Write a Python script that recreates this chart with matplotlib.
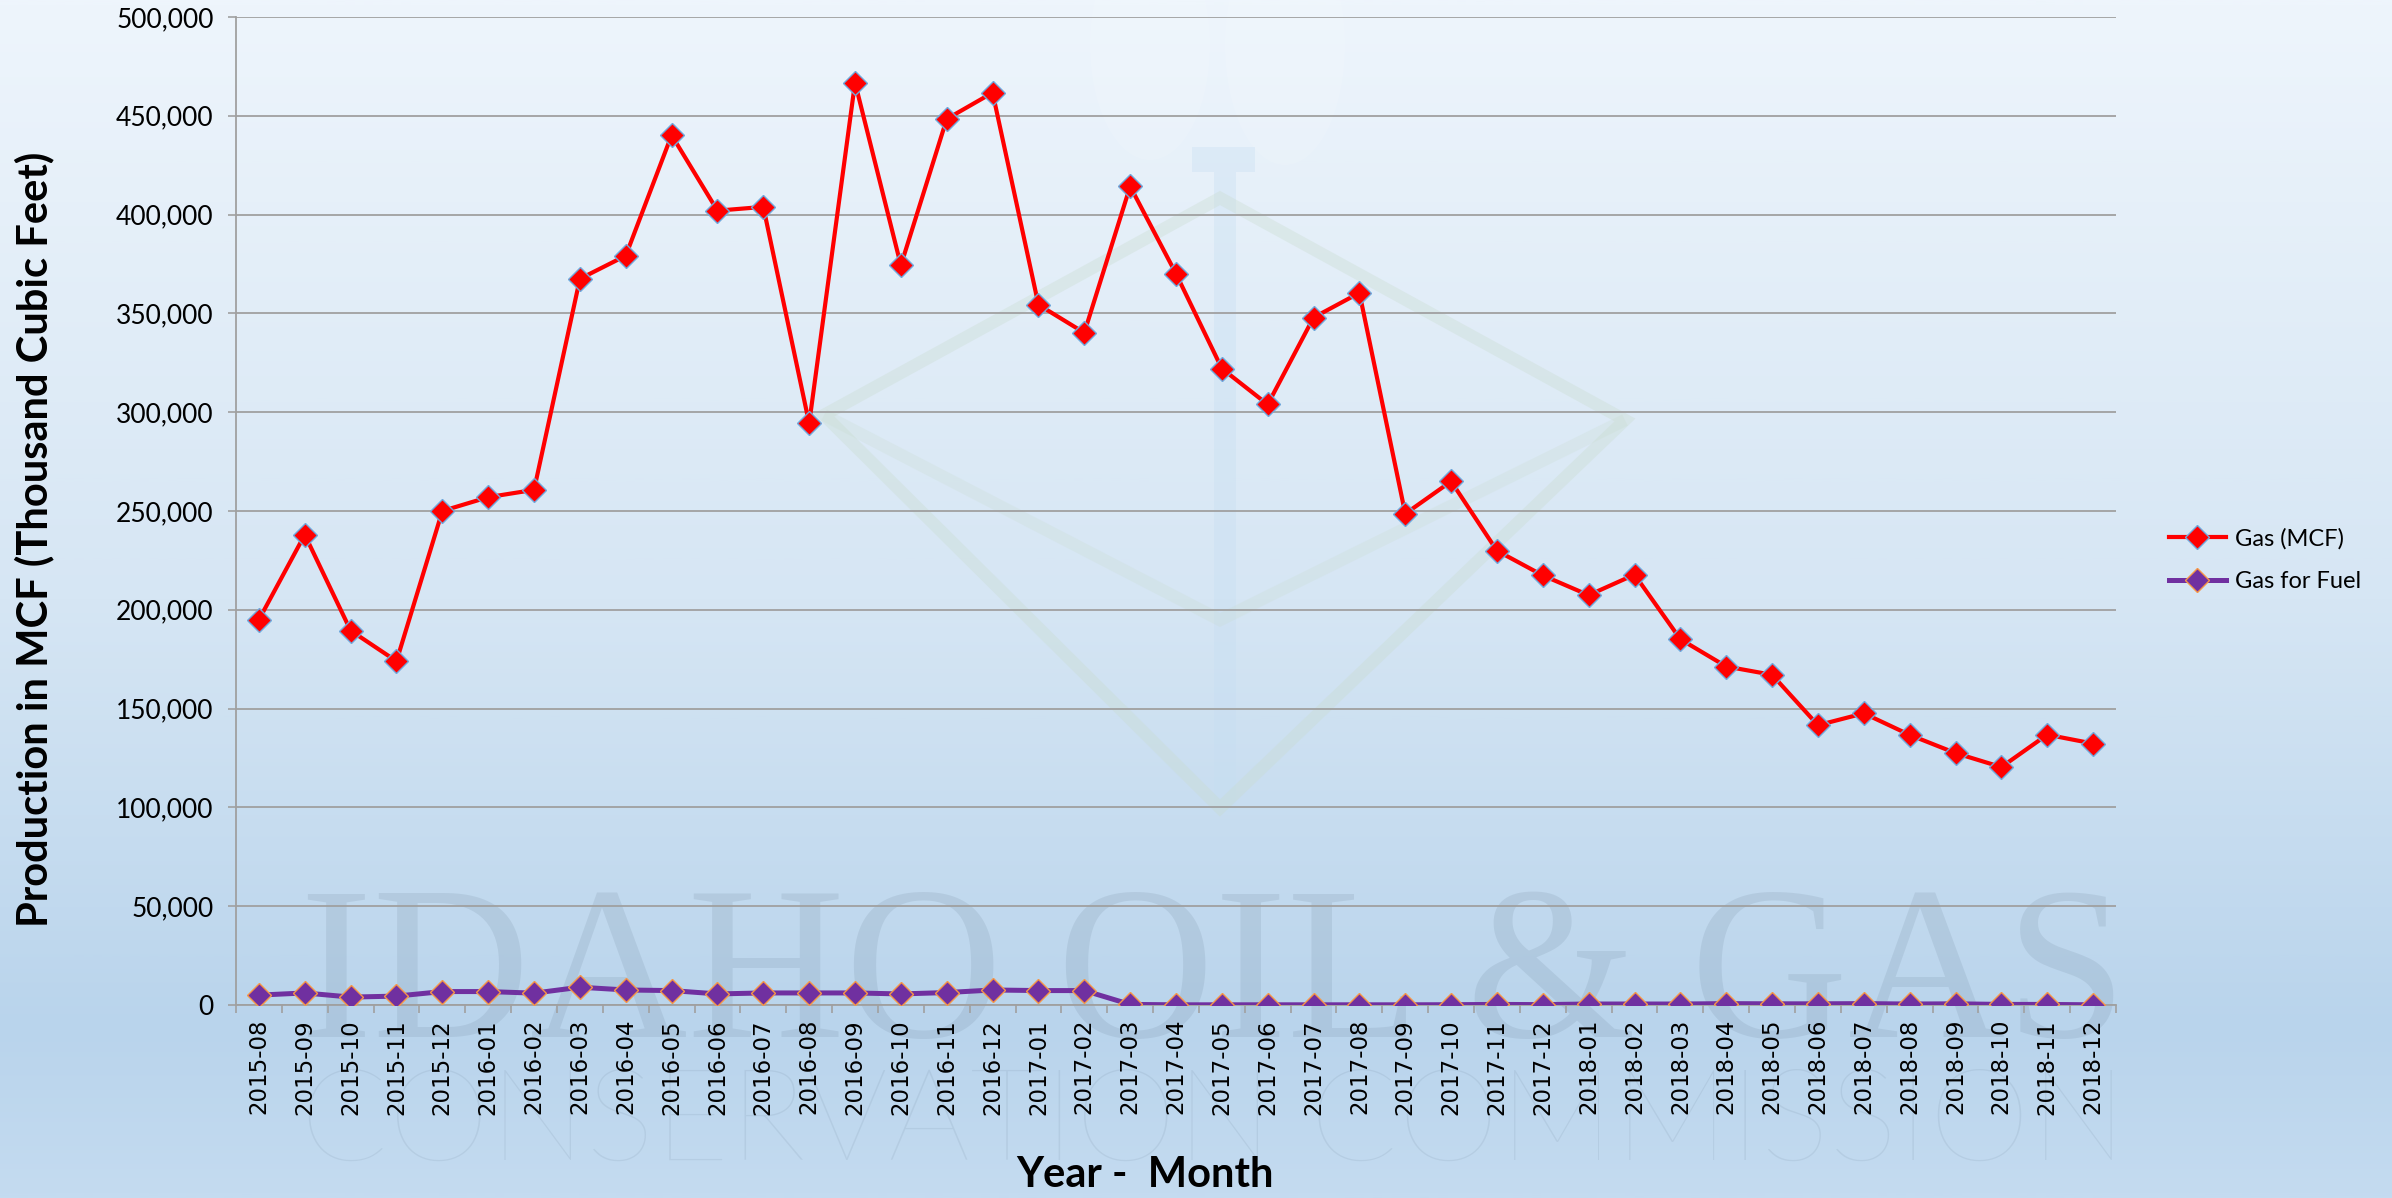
import numpy as np
import matplotlib
matplotlib.use('Agg')
import matplotlib.pyplot as plt
from matplotlib.colors import LinearSegmentedColormap
from matplotlib.ticker import FuncFormatter
from matplotlib.patches import Polygon, Ellipse, Rectangle

# ---------------- data ----------------
months = ['2015-08', '2015-09', '2015-10', '2015-11', '2015-12',
          '2016-01', '2016-02', '2016-03', '2016-04', '2016-05', '2016-06',
          '2016-07', '2016-08', '2016-09', '2016-10', '2016-11', '2016-12',
          '2017-01', '2017-02', '2017-03', '2017-04', '2017-05', '2017-06',
          '2017-07', '2017-08', '2017-09', '2017-10', '2017-11', '2017-12',
          '2018-01', '2018-02', '2018-03', '2018-04', '2018-05', '2018-06',
          '2018-07', '2018-08', '2018-09', '2018-10', '2018-11', '2018-12']

gas_mcf = [195000, 238000, 189500, 174000, 250000,
           257000, 260700, 367500, 379200, 440200, 402000,
           403900, 294300, 466800, 374300, 448400, 461700,
           354400, 340200, 414300, 370100, 322100, 303900,
           347900, 360400, 248600, 265000, 229900, 217400,
           207400, 217800, 185100, 171300, 167100, 141600,
           147600, 136700, 127500, 120400, 136800, 132300]

gas_fuel = [5000, 6100, 4000, 4500, 6800,
            6800, 6000, 9000, 7600, 7300, 5600,
            6100, 6100, 6100, 5600, 6300, 7600,
            7300, 7300, 300, 100, 100, 100,
            100, 100, 100, 150, 300, 200,
            500, 500, 500, 700, 600, 600,
            700, 500, 600, 300, 300, 100]

series_labels = ['Gas (MCF)', 'Gas for Fuel']
y_ticks = [0, 50000, 100000, 150000, 200000, 250000,
           300000, 350000, 400000, 450000, 500000]
y_label = 'Production in MCF (Thousand Cubic Feet)'
x_label = 'Year -  Month'

# ---------------- figure ----------------
W, H = 2392, 1198
fig = plt.figure(figsize=(W / 100, H / 100), dpi=100)

# background gradient + watermark (pixel coordinates, y downward)
bg = fig.add_axes([0, 0, 1, 1], zorder=-10)
grad = np.linspace(0, 1, 600).reshape(-1, 1)
cmap = LinearSegmentedColormap.from_list(
    'bg', [(0, '#EEF5FC'), (0.5, '#D6E6F4'), (0.86, '#B9D4EC'), (1, '#C4DBF0')])
bg.imshow(grad, aspect='auto', cmap=cmap, extent=[0, W, H, 0])
bg.set_xlim(0, W)
bg.set_ylim(H, 0)
bg.axis('off')

# faint logo
bg.add_patch(Ellipse((1150, 45), 120, 230, color='#FFFFFF', alpha=0.10, lw=0))
bg.add_patch(Ellipse((1285, 45), 120, 240, color='#FFFFFF', alpha=0.10, lw=0))
bg.add_patch(Rectangle((1192, 147), 63, 25, color='#C6DEF2', alpha=0.35, lw=0))
bg.add_patch(Rectangle((1214, 172), 22, 640, color='#C6DEF2', alpha=0.35, lw=0))
bg.add_patch(Polygon([(824, 415), (1220, 198), (1625, 420), (1220, 808)],
                     closed=True, fill=False, edgecolor='#C9DCCF', alpha=0.35, lw=9))
bg.add_patch(Polygon([(824, 415), (1220, 620), (1625, 420)],
                     closed=False, fill=False, edgecolor='#C9DCCF', alpha=0.25, lw=9))

bg.text(300, 1037, 'IDAHO OIL & GAS', family='Liberation Serif', fontsize=157,
        color='#50657A', alpha=0.12, ha='left', va='baseline')
bg.text(300, 1160, 'CONSERVATION COMMISSION', family='Lato', fontweight='light',
        fontsize=93, color='#50657A', alpha=0.10, ha='left', va='baseline')

# main axes
ax = fig.add_axes([236 / W, 1 - 1005 / H, (2116 - 236) / W, (1005 - 17) / H])
ax.set_facecolor('none')
x = np.arange(len(months))

ax.plot(x, gas_mcf, color='#FF0000', lw=3, marker='D', ms=12,
        mfc='#FF0000', mec='#6FA8DC', mew=1.0, label=series_labels[0], zorder=3)
ax.plot(x, gas_fuel, color='#7030A0', lw=3.6, marker='D', ms=12,
        mfc='#7030A0', mec='#F79646', mew=1.0, label=series_labels[1], zorder=3)

ax.set_xlim(-0.5, len(months) - 0.5)
ax.set_ylim(0, 500000)
ax.set_yticks(y_ticks)
ax.yaxis.set_major_formatter(FuncFormatter(lambda v, p: f'{int(v):,}'))
for lab in ax.get_yticklabels():
    lab.set_family('Lato')
    lab.set_fontsize(19)

ax.set_xticks(x)
ax.set_xticklabels(months, rotation=90, family='DejaVu Sans', fontsize=16.5)
ax.set_xticks(np.arange(-0.5, len(months)), minor=True)
ax.tick_params(axis='x', which='major', length=0, pad=10)
ax.tick_params(axis='x', which='minor', length=6, color='#A0A0A0', width=1.2,
               direction='out')
ax.tick_params(axis='y', which='major', length=6, color='#A0A0A0', width=1.2,
               pad=10, direction='out')

ax.grid(axis='y', color='#A0A0A0', lw=1.3)
ax.set_axisbelow(True)
for s in ['top', 'right']:
    ax.spines[s].set_visible(False)
for s in ['left', 'bottom']:
    ax.spines[s].set_color('#A0A0A0')
    ax.spines[s].set_linewidth(1.3)

fig.text(34 / W, 1 - 539 / H, y_label, rotation=90, ha='center', va='center',
         family='Lato', fontweight='bold', fontsize=30)
fig.text(1145 / W, 1 - 1175 / H, x_label, ha='center', va='center',
         family='Lato', fontweight='bold', fontsize=30)

ax.legend(loc='center left', bbox_to_anchor=(2169 / W, 1 - 560 / H),
          bbox_transform=fig.transFigure, frameon=False,
          prop={'family': 'Lato', 'size': 17}, handlelength=2.4,
          handletextpad=0.4, labelspacing=0.9, borderpad=0, borderaxespad=0)

fig.savefig('out.png', dpi=100)
